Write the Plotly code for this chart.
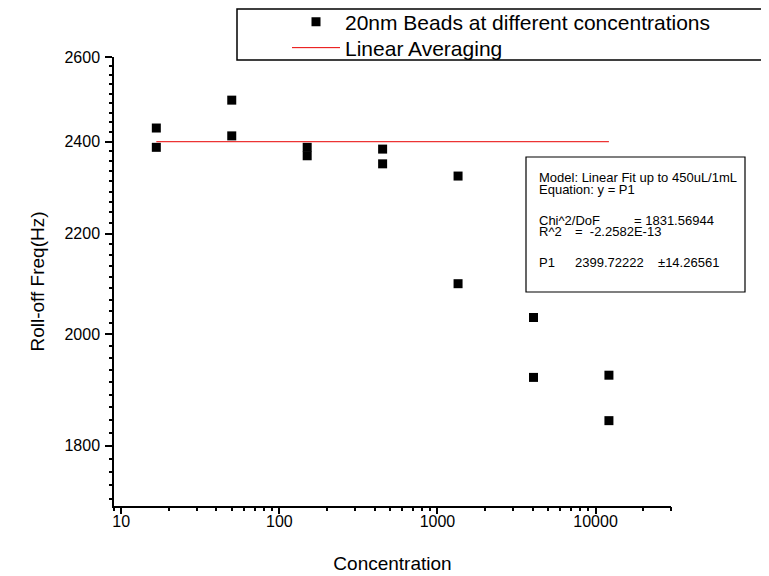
import numpy as np
import plotly.graph_objects as go

# ---- data ----
conc = [16.67, 16.67, 50, 50, 150, 150, 450, 450, 1350, 1350, 4050, 4050, 12150, 12150]
freq = [2431, 2387, 2496, 2413, 2387, 2368, 2383, 2350, 2323, 2098, 2032, 1920, 1924, 1843]
avg_x = [16.67, 12150]
avg_y = [2399.72222, 2399.72222]

x_tick_vals = [10, 100, 1000, 10000]
x_tick_text = ["10", "100", "1000", "10000"]
y_tick_vals = [1800, 2000, 2200, 2400, 2600]
y_tick_text = ["1800", "2000", "2200", "2400", "2600"]

# ---- layout geometry (pixels; page body has an 8px margin) ----
OFF = 8
W, H = 761, 568
L, R, T, B = 106, 98, 49, 70
PW, PH = W - L - R, H - T - B

def px(x):  # screen x -> paper
    return (x - OFF - L) / PW

def py(y):  # screen y -> paper
    return (H - B - (y - OFF)) / PH

# minor tick positions
x_minor = [m * 10 ** e for e in range(0, 5) for m in range(2, 10) if 9 <= m * 10 ** e <= 30000]
y_minor = []
for lo in [1600, 1800, 2000, 2200, 2400]:
    for k in range(1, 9):
        v = lo + k * 200 / 9
        if v >= 1700:
            y_minor.append(v)

FONT = "Arial, 'Liberation Sans', sans-serif"
XR = [float(np.log10(9)), float(np.log10(30000))]
YR = [float(np.log10(1700)), float(np.log10(2600))]

fig = go.Figure()
fig.add_trace(go.Scatter(
    x=conc, y=freq, mode="markers",
    name="20nm Beads at different concentrations", legend="legend",
    marker=dict(symbol="square", size=9, color="black", line=dict(width=0)),
))
fig.add_trace(go.Scatter(
    x=avg_x, y=avg_y, mode="lines", name="Linear Averaging", legend="legend2",
    line=dict(color="#e80000", width=1),
))
# empty trace to carry the minor-tick overlay axes
fig.add_trace(go.Scatter(x=[None], y=[None], xaxis="x2", yaxis="y2",
                         showlegend=False, hoverinfo="skip", mode="markers"))

axis_common = dict(
    showline=True, linecolor="black", linewidth=1.5, mirror=False,
    ticks="outside", tickcolor="black", tickwidth=1.5,
    showgrid=False, zeroline=False, automargin=False,
    tickfont=dict(family=FONT, size=16, color="black"),
)

fig.update_layout(
    xaxis=dict(
        type="log", range=XR, ticklen=6, ticklabelstandoff=-6,
        tickmode="array", tickvals=x_tick_vals, ticktext=x_tick_text,
        title=dict(text="Concentration", font=dict(family=FONT, size=19, color="black"), standoff=28),
        **axis_common,
    ),
    yaxis=dict(
        type="log", range=YR, ticklen=7, ticklabelstandoff=2,
        tickmode="array", tickvals=y_tick_vals, ticktext=y_tick_text,
        title=dict(text="Roll-off Freq(Hz)", font=dict(family=FONT, size=19, color="black")),
        **axis_common,
    ),
    xaxis2=dict(
        type="log", range=XR, overlaying="x", side="bottom", anchor="y",
        tickmode="array", tickvals=x_minor, showticklabels=False,
        ticks="outside", ticklen=4, tickwidth=1.5, tickcolor="black",
        showline=False, showgrid=False, zeroline=False, automargin=False,
    ),
    yaxis2=dict(
        type="log", range=YR, overlaying="y", side="left", anchor="x",
        tickmode="array", tickvals=y_minor, showticklabels=False,
        ticks="outside", ticklen=4, tickwidth=1.5, tickcolor="black",
        showline=False, showgrid=False, zeroline=False, automargin=False,
    ),
)

shapes = [
    dict(type="rect", xref="paper", yref="paper",
         x0=px(237), x1=px(800), y0=py(60), y1=py(9),
         line=dict(color="black", width=1.5), fillcolor="rgba(0,0,0,0)", layer="above"),
    dict(type="rect", xref="paper", yref="paper",
         x0=px(526), x1=px(745), y0=py(292), y1=py(157),
         line=dict(color="black", width=1.2), fillcolor="white", layer="above"),
]

ann = []
def text(x, y, s):
    ann.append(dict(xref="paper", yref="paper", x=px(x), y=py(y), text=s,
                    showarrow=False, xanchor="left", yanchor="middle",
                    font=dict(family=FONT, size=13, color="black")))

text(537, 177, "Model: Linear Fit up to 450uL/1mL")
text(537, 189, "Equation: y = P1")
text(537, 220, "Chi^2/DoF")
text(632, 220, "= 1831.56944")
text(537, 232, "R^2")
text(573, 232, "=  -2.2582E-13")
text(537, 262, "P1")
text(573, 262, "2399.72222")
text(656, 262, "±14.26561")

leg_common = dict(
    xanchor="left", yanchor="middle",
    bgcolor="rgba(0,0,0,0)", borderwidth=0,
    font=dict(family=FONT, size=21, color="black"),
    itemwidth=48,
)

fig.update_layout(
    width=W, height=H,
    margin=dict(l=L, r=R, t=T, b=B, pad=0, autoexpand=False),
    paper_bgcolor="white", plot_bgcolor="white",
    font=dict(family=FONT, color="black"),
    showlegend=True,
    legend=dict(x=px(287), y=py(22), **leg_common),
    legend2=dict(x=px(287), y=py(48), **leg_common),
    shapes=shapes,
    annotations=ann,
)

fig.write_html("out.html")
